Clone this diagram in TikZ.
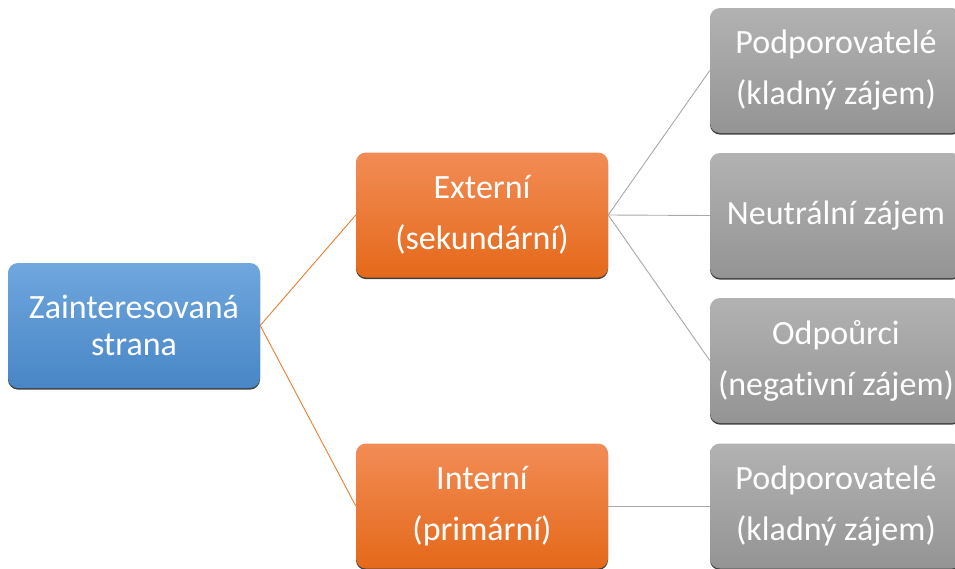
\documentclass[tikz,border=0pt]{standalone}
\usepackage{fontspec}
\setmainfont{Carlito}[Ligatures=NoCommon]
\usetikzlibrary{shadows}
\definecolor{bluetop}{HTML}{6FA7DE}
\definecolor{bluebot}{HTML}{4886C6}
\definecolor{orangetop}{HTML}{F28C55}
\definecolor{orangebot}{HTML}{E4691A}
\definecolor{graytop}{HTML}{B2B2B2}
\definecolor{graybot}{HTML}{949494}
\definecolor{orangeline}{HTML}{ED7D31}
\definecolor{grayline}{HTML}{A9A9A9}
\tikzset{
  card/.style={rectangle, rounded corners=10pt, minimum width=252pt,
    minimum height=125pt, inner sep=0pt, align=center, text=white,
    font=\fontsize{34}{37}\selectfont,
    drop shadow={shadow xshift=0pt, shadow yshift=-1.6pt, fill=black, opacity=0.75}},
  widelines/.style={font=\fontsize{34}{51}\selectfont},
  rootcard/.style={card, top color=bluetop, bottom color=bluebot},
  midcard/.style={card, widelines, top color=orangetop, bottom color=orangebot},
  leafcard/.style={card, widelines, top color=graytop, bottom color=graybot},
  rootlink/.style={draw=orangeline, line width=0.9pt},
  leaflink/.style={draw=grayline, line width=0.9pt}
}
\begin{document}
\begin{tikzpicture}[x=1pt, y=-1pt]
  \useasboundingbox (0,0) rectangle (955,568);
  \clip (0,0) rectangle (955,568);
  \fill[white] (0,0) rectangle (955,568);

  % stakeholder tree: root, two categories, four attitudes
  \node[rootcard] (root) at (134,325.5) {Zainteresovaná\\strana};
  \node[midcard] (ext) at (482,215) {Externí\\(sekundární)};
  \node[midcard] (int) at (482,506) {Interní\\(primární)};
  \node[leafcard] (sup1) at (836,70.5) {Podporovatelé\\(kladný zájem)};
  \node[leafcard] (neu) at (836,215.5) {Neutrální zájem};
  \node[leafcard] (opp) at (836,360.5) {Odpoůrci\\(negativní zájem)};
  \node[leafcard] (sup2) at (836,506) {Podporovatelé\\(kladný zájem)};

  % connectors
  \path[rootlink] (root.east) -- (ext.west);
  \path[rootlink] (root.east) -- (int.west);
  \path[leaflink] (ext.east) -- (sup1.west);
  \path[leaflink] (ext.east) -- (neu.west);
  \path[leaflink] (ext.east) -- (opp.west);
  \path[leaflink] (int.east) -- (sup2.west);
\end{tikzpicture}
\end{document}
